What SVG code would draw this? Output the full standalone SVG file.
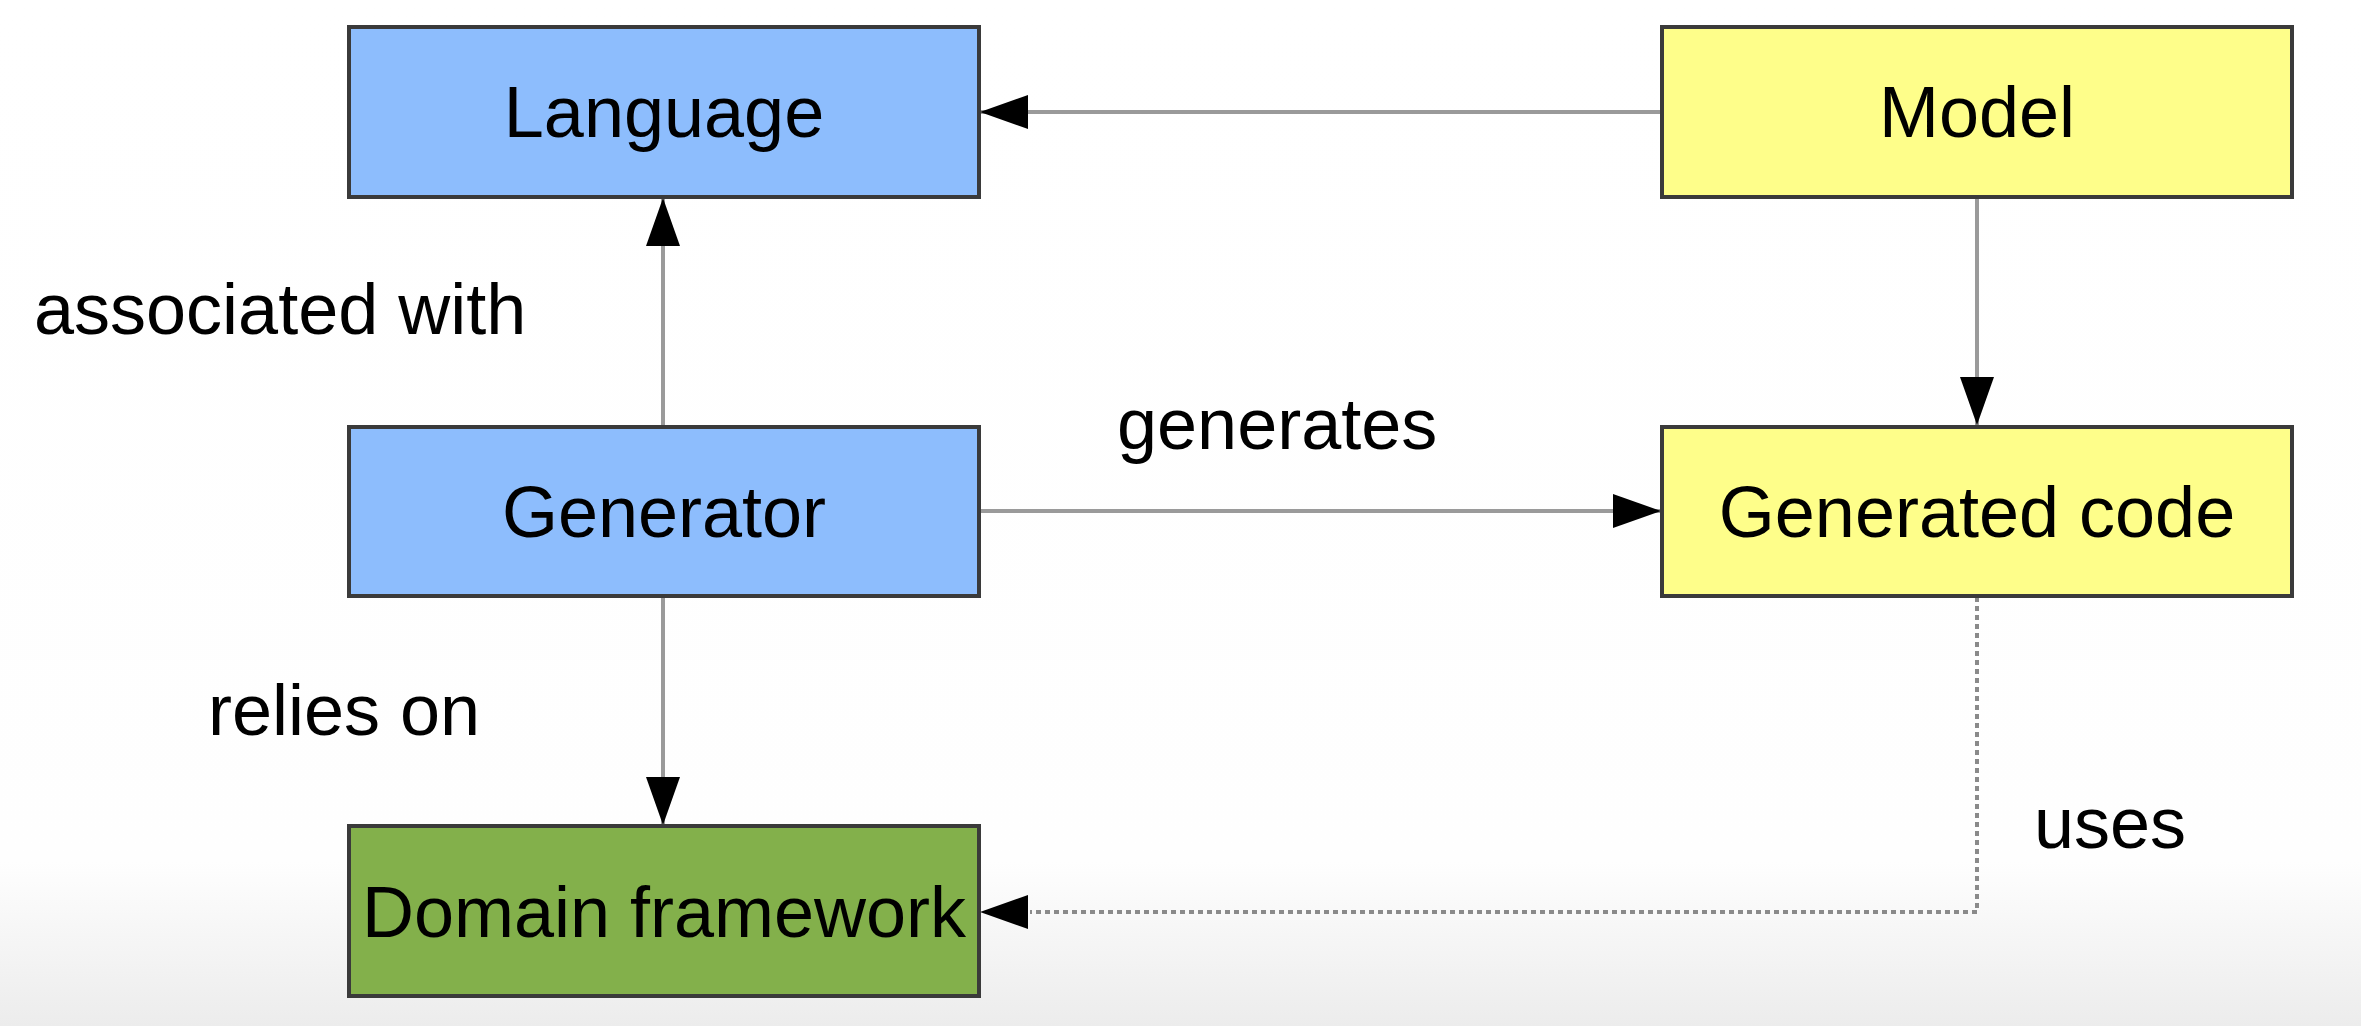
<svg xmlns="http://www.w3.org/2000/svg" width="2361" height="1026" viewBox="0 0 2361 1026">
<style>
.box{stroke:#3a3a3a;stroke-width:4}
.blue{fill:#8dbdfd}
.yellow{fill:#fefe8a}
.green{fill:#83b04b}
.lbl{font-family:"Liberation Sans",Arial,sans-serif;font-size:72px;fill:#000}
.mid{text-anchor:middle}
.conn{stroke:#9a9a9a;stroke-width:4;fill:none}
.dot{stroke:#8a8a8a;stroke-width:4;fill:none;stroke-dasharray:5 4}
</style>
<defs>
<linearGradient id="bg" x1="0" y1="0" x2="0" y2="1">
<stop offset="0" stop-color="#ffffff"/>
<stop offset="0.84" stop-color="#fefefe"/>
<stop offset="1" stop-color="#ececec"/>
</linearGradient>
<marker id="arr" markerUnits="userSpaceOnUse" markerWidth="50" markerHeight="34" refX="48" refY="17" orient="auto" viewBox="0 0 50 34">
<path d="M0,0 L48,17 L0,34 z" fill="#000"/>
</marker>
</defs>
<rect x="0" y="0" width="2361" height="1026" fill="url(#bg)"/>
<g id="connectors">
<line class="conn" x1="1662" y1="112" x2="980" y2="112" marker-end="url(#arr)"/>
<line class="conn" x1="663" y1="426" x2="663" y2="198" marker-end="url(#arr)"/>
<line class="conn" x1="1977" y1="197" x2="1977" y2="425" marker-end="url(#arr)"/>
<line class="conn" x1="979" y1="511" x2="1661" y2="511" marker-end="url(#arr)"/>
<line class="conn" x1="663" y1="596" x2="663" y2="825" marker-end="url(#arr)"/>
<path class="dot" d="M1977,597 L1977,912 L1030,912"/>
<path d="M1028,895 L980,912 L1028,929 z" fill="#000"/>
<text class="lbl" x="34" y="334">associated with</text>
<text class="lbl" x="1117" y="449">generates</text>
<text class="lbl" x="208" y="735">relies on</text>
<text class="lbl" x="2034" y="848">uses</text>
</g>
<g id="language">
<rect class="box blue" x="349" y="27" width="630" height="170"/>
<text class="lbl mid" x="664" y="137">Language</text>
</g>
<g id="model">
<rect class="box yellow" x="1662" y="27" width="630" height="170"/>
<text class="lbl mid" x="1977" y="137">Model</text>
</g>
<g id="generator">
<rect class="box blue" x="349" y="427" width="630" height="169"/>
<text class="lbl mid" x="664" y="537">Generator</text>
</g>
<g id="generated-code">
<rect class="box yellow" x="1662" y="427" width="630" height="169"/>
<text class="lbl mid" x="1977" y="537">Generated code</text>
</g>
<g id="domain-framework">
<rect class="box green" x="349" y="826" width="630" height="170"/>
<text class="lbl mid" x="664" y="937">Domain framework</text>
</g>
</svg>
